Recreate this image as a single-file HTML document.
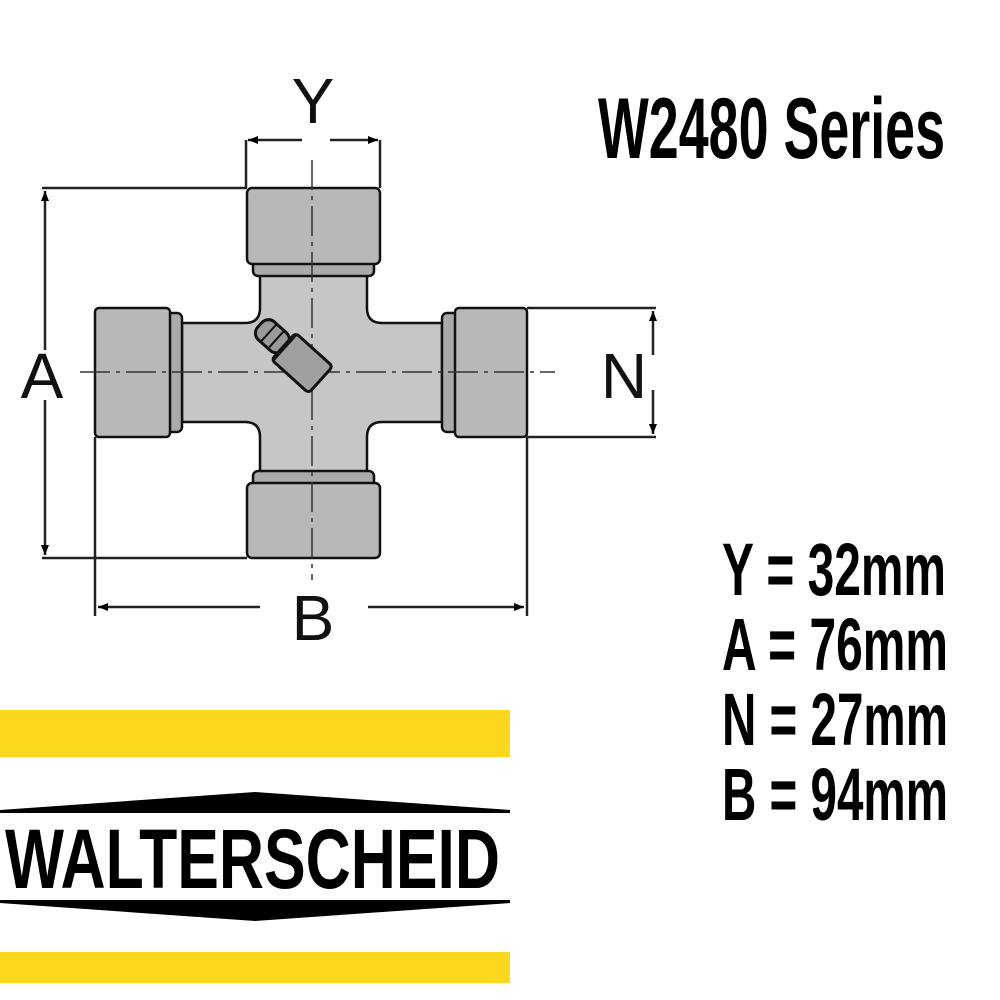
<!DOCTYPE html>
<html><head><style>
html,body{margin:0;padding:0;background:#fff;}
svg{display:block;}
text{font-family:"Liberation Sans",Arial,sans-serif;}
</style></head><body>
<svg width="1000" height="1000" viewBox="0 0 1000 1000" xmlns="http://www.w3.org/2000/svg">
<defs>
<marker id="ar" viewBox="0 0 10 10" refX="10" refY="5" markerWidth="14" markerHeight="10" markerUnits="userSpaceOnUse" orient="auto"><path d="M0,1 L10,5 L0,9 z" fill="#000"/></marker>
</defs>
<g stroke="#222" stroke-width="2.5" fill="none">
<path d="M246,188 V140 M380,188 V140"/>
<line x1="302" y1="140" x2="248" y2="140" marker-end="url(#ar)"/>
<line x1="330" y1="140" x2="378" y2="140" marker-end="url(#ar)"/>
<path d="M42,188 H247 M42,558 H247"/>
<line x1="45" y1="350" x2="45" y2="191" marker-end="url(#ar)"/>
<line x1="45" y1="400" x2="45" y2="555" marker-end="url(#ar)"/>
<path d="M527,308 H656 M527,437 H656"/>
<line x1="653" y1="355" x2="653" y2="311" marker-end="url(#ar)"/>
<line x1="653" y1="390" x2="653" y2="434" marker-end="url(#ar)"/>
<path d="M95,437 V616 M527,437 V616"/>
<line x1="260" y1="607" x2="98" y2="607" marker-end="url(#ar)"/>
<line x1="368" y1="607" x2="524" y2="607" marker-end="url(#ar)"/>
</g>
<g stroke="#111" stroke-width="2.5" fill="#c6c6c6">
<path d="M260,275 H367 V308 Q367,323 382,323 H442 V422 H382 Q367,422 367,437 V472 H260 V437 Q260,422 245,422 H182 V323 H245 Q260,323 260,308 Z"/>
<rect x="253" y="260" width="121" height="16" rx="5" fill="#aaaaaa"/>
<rect x="247" y="188" width="133" height="76" rx="5" fill="#b8b8b8"/>
<rect x="253" y="471" width="121" height="16" rx="5" fill="#aaaaaa"/>
<rect x="247" y="483" width="133" height="75" rx="5" fill="#b8b8b8"/>
<rect x="166" y="313" width="16" height="119" rx="5" fill="#aaaaaa"/>
<rect x="95" y="308" width="75" height="129" rx="4" fill="#b8b8b8"/>
<rect x="442" y="313" width="16" height="119" rx="5" fill="#aaaaaa"/>
<rect x="455" y="308" width="72" height="129" rx="4" fill="#b8b8b8"/>
</g>
<g stroke="#333" stroke-width="1.5" stroke-dasharray="30,6,4,6" fill="none">
<line x1="312" y1="160" x2="312" y2="580"/>
<line x1="80" y1="372" x2="555" y2="372"/>
</g>
<g transform="translate(291,353) rotate(42)" stroke="#111" stroke-width="3">
<rect x="-42" y="-12" width="34" height="24" rx="9" fill="#9a9a9a"/>
<rect x="-10" y="-18" width="50" height="36" rx="4" fill="#a0a0a0"/>
<path d="M-30,-12 V12 M-20,-13 V13 M-8,-17 V17" stroke-width="2"/>
</g>
<g font-size="64" fill="#111">
<text x="313" y="123" text-anchor="middle">Y</text>
<text x="42" y="398" text-anchor="middle">A</text>
<text x="624" y="398" text-anchor="middle">N</text>
<text x="313" y="640" text-anchor="middle">B</text>
</g>
<text x="598" y="158" font-size="86" font-weight="bold" textLength="347" lengthAdjust="spacingAndGlyphs">W2480 Series</text>
<g font-size="74" font-weight="bold">
<text x="722" y="595" textLength="224" lengthAdjust="spacingAndGlyphs">Y = 32mm</text>
<text x="722" y="670" textLength="226" lengthAdjust="spacingAndGlyphs">A = 76mm</text>
<text x="722" y="745" textLength="226" lengthAdjust="spacingAndGlyphs">N = 27mm</text>
<text x="722" y="820" textLength="226" lengthAdjust="spacingAndGlyphs">B = 94mm</text>
</g>
<rect x="0" y="710" width="510" height="47" fill="#fbd71e"/>
<rect x="0" y="952" width="510" height="31" fill="#fbd71e"/>
<path d="M0,810 L255,792 L510,810 L510,813 L0,813 Z" fill="#000"/>
<path d="M0,900 L510,900 L510,903 L255,921 L0,903 Z" fill="#000"/>
<text x="5" y="888" font-size="84" font-weight="bold" fill="#000" textLength="495" lengthAdjust="spacingAndGlyphs">WALTERSCHEID</text>
</svg>
</body></html>
